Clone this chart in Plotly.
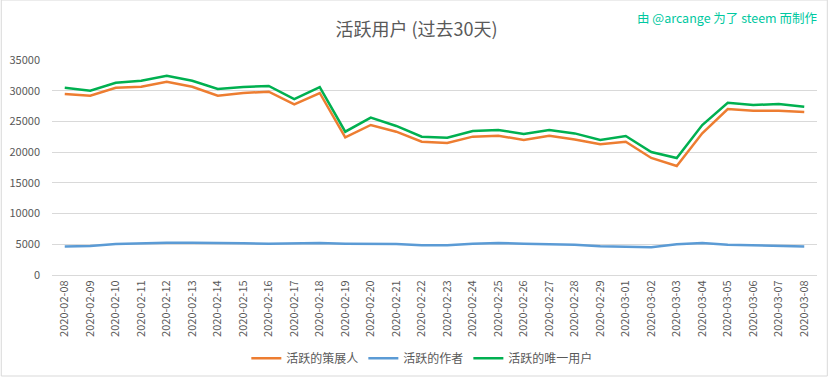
import plotly.graph_objects as go

dates = ["2020-02-08", "2020-02-09", "2020-02-10", "2020-02-11", "2020-02-12", "2020-02-13",
         "2020-02-14", "2020-02-15", "2020-02-16", "2020-02-17", "2020-02-18", "2020-02-19",
         "2020-02-20", "2020-02-21", "2020-02-22", "2020-02-23", "2020-02-24", "2020-02-25",
         "2020-02-26", "2020-02-27", "2020-02-28", "2020-02-29", "2020-03-01", "2020-03-02",
         "2020-03-03", "2020-03-04", "2020-03-05", "2020-03-06", "2020-03-07", "2020-03-08"]

curators = [29470, 29190, 30490, 30650, 31470, 30650, 29190, 29630, 29840, 27790,
            29630, 22420, 24420, 23330, 21700, 21490, 22520, 22680, 21980, 22680,
            22050, 21280, 21700, 19050, 17750, 23070, 27020, 26750, 26750, 26540]

authors = [4620, 4720, 5050, 5210, 5270, 5270, 5270, 5160, 5100, 5160,
           5210, 5100, 5100, 5050, 4830, 4830, 5100, 5210, 5100, 4990,
           4940, 4670, 4620, 4510, 4990, 5210, 4940, 4830, 4830, 4620]

unique_users = [30490, 30000, 31300, 31630, 32440, 31630, 30280, 30600, 30770, 28650,
                30600, 23330, 25610, 24260, 22520, 22350, 23440, 23610, 22950, 23610,
                23050, 21980, 22630, 20020, 19050, 24420, 28050, 27680, 27840, 27400]

series_names = ["活跃的策展人", "活跃的作者", "活跃的唯一用户"]
series_colors = ["#ED7D31", "#5B9BD5", "#00B050"]
y_ticks = [0, 5000, 10000, 15000, 20000, 25000, 30000, 35000]

FONT = "Noto Sans CJK SC"
GRAY = "#595959"

fig = go.Figure()
for name, vals, col in zip(series_names, [curators, authors, unique_users], series_colors):
    fig.add_trace(go.Scatter(x=dates, y=vals, name=name, mode="lines",
                             line=dict(color=col, width=2.5)))

# plot area in pixels: x 51.7..816.7, y 60..275
fig.update_layout(
    width=833, height=379,
    margin=dict(l=52, r=16, t=60, b=104, pad=0, autoexpand=False),
    paper_bgcolor="white", plot_bgcolor="white",
    font=dict(family=FONT, color=GRAY, size=11),
    showlegend=True,
    legend=dict(orientation="h", x=0.507, xanchor="center", xref="container",
                y=0.055, yanchor="middle", yref="container",
                font=dict(size=12, color=GRAY), itemwidth=30, traceorder="normal"),
    title=dict(text="活跃用户 (过去30天)", x=0.5, xanchor="center", xref="container",
               y=1 - 30 / 379, yanchor="middle", yref="container",
               font=dict(size=18, color=GRAY, family=FONT)),
)

fig.update_xaxes(type="category", range=[-0.5, len(dates) - 0.5], tickangle=-90,
                 showgrid=False, showline=True, linecolor="#d9d9d9", linewidth=1,
                 ticks="", automargin=False,
                 tickfont=dict(size=11, color=GRAY, family=FONT), fixedrange=True)
fig.update_yaxes(range=[0, 35000], tickvals=y_ticks, ticktext=[str(v) for v in y_ticks],
                 showgrid=True, gridcolor="#d9d9d9", gridwidth=1, zeroline=False,
                 showline=False, ticks="", ticklabelstandoff=11, automargin=False,
                 tickfont=dict(size=11, color=GRAY, family=FONT), fixedrange=True)

fig.add_annotation(text="由 @arcange 为了 steem 而制作", xref="paper", yref="paper",
                   x=1.002, y=1.2, xanchor="right", yanchor="middle", showarrow=False,
                   font=dict(size=12.5, color="#00C8A0", family=FONT))

fig.add_shape(type="rect", xref="paper", yref="paper", x0=-0.0663, x1=1.0135,
              y0=-0.4698, y1=1.279, line=dict(color="#d9d9d9", width=1),
              fillcolor="rgba(0,0,0,0)", layer="below")

fig.write_html("out.html", config={"displayModeBar": False, "staticPlot": True},
               post_script="document.body.style.margin='0';document.body.style.overflow='hidden';")
